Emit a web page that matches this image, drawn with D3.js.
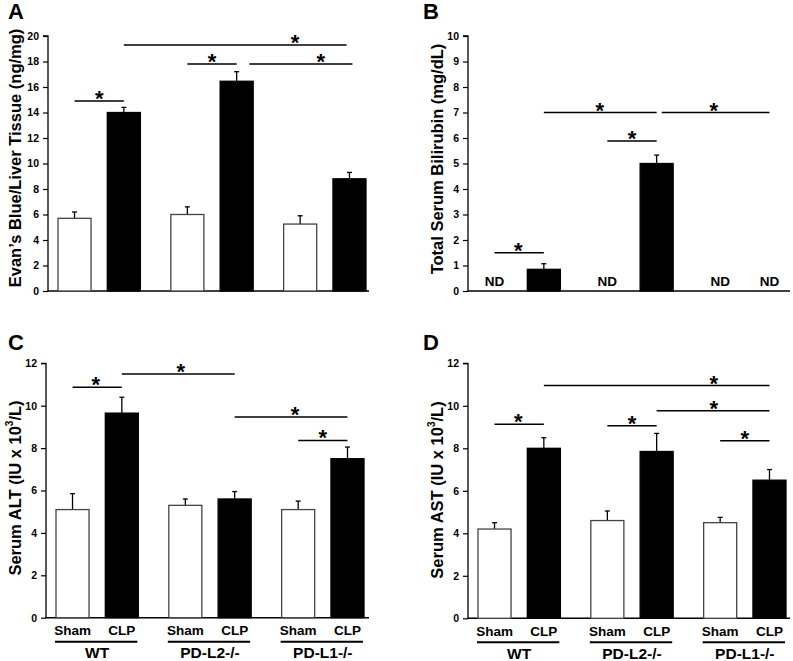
<!DOCTYPE html>
<html>
<head>
<meta charset="utf-8">
<script src="https://cdn.jsdelivr.net/npm/d3@7"></script>
<style>
  html, body { margin: 0; padding: 0; background: #fff; }
  svg { display: block; font-family: Arial, "Liberation Sans", Helvetica, sans-serif; }
</style>
</head>
<body>
<svg id="chart" width="793" height="661"></svg>
<script>
// ---------- DATA ----------
const groups = ["WT", "PD-L2-/-", "PD-L1-/-"];
const conditions = ["Sham", "CLP"];

// Panel A: Evan's Blue / Liver Tissue (ng/mg)
const evansBlue    = [5.7, 14.0, 6.0, 16.45, 5.25, 8.8];
const evansBlueErr = [0.5, 0.4, 0.6, 0.75, 0.65, 0.5];
const evansTicks   = [0, 2, 4, 6, 8, 10, 12, 14, 16, 18, 20];

// Panel B: Total Serum Bilirubin (mg/dL); null = ND
const bilirubin    = [null, 0.85, null, 5.0, null, null];
const bilirubinErr = [0, 0.22, 0, 0.33, 0, 0];
const bilirubinTicks = [0, 1, 2, 3, 4, 5, 6, 7, 8, 9, 10];

// Panel C: Serum ALT (IU x 10^3/L)
const alt    = [5.1, 9.65, 5.3, 5.6, 5.1, 7.5];
const altErr = [0.75, 0.75, 0.3, 0.35, 0.4, 0.55];
const altTicks = [0, 2, 4, 6, 8, 10, 12];

// Panel D: Serum AST (IU x 10^3/L)
const ast    = [4.2, 8.0, 4.6, 7.85, 4.5, 6.5];
const astErr = [0.3, 0.5, 0.45, 0.85, 0.25, 0.5];
const astTicks = [0, 2, 4, 6, 8, 10, 12];

// Significance brackets: [fromBar, toBar, yValue, starBar] (bar index, fractional allowed)
const sigA = [[0, 1, 14.9, 0.5], [1, 4.94, 19.3, 3.92], [2, 3, 17.8, 2.5], [3.2, 5.06, 17.8, 4.42]];
const sigB = [[0, 1, 1.5, 0.48], [1, 3, 7.0, 1.88], [2, 3, 5.88, 2.5], [3.08, 5, 7.0, 3.9]];
const sigC = [[0, 1, 10.87, 0.47], [1, 3, 11.5, 1.93], [3, 5, 9.47, 3.95], [4, 5, 8.36, 4.5]];
const sigD = [[0, 1, 9.13, 0.48], [1, 5, 10.95, 3.9], [2, 3, 9.06, 2.5], [3, 5, 9.77, 3.9], [4, 5, 8.36, 4.5]];

// ---------- LAYOUT ----------
const panels = [
  { letter: "A", lx: 8, ly: 19, axisX: 48, y0: 291, yTop: 36, xEnd: 369, max: 20,
    values: evansBlue, errs: evansBlueErr, ticks: evansTicks, sig: sigA,
    label: ["Evan\u2019s Blue/Liver Tissue (ng/mg)"], labelX: 15, labelY: 158, xLabels: false },
  { letter: "B", lx: 423, ly: 19, axisX: 468, y0: 291, yTop: 36, xEnd: 790, max: 10,
    values: bilirubin, errs: bilirubinErr, ticks: bilirubinTicks, sig: sigB,
    label: ["Total Serum Bilirubin (mg/dL)"], labelX: 437, labelY: 159, xLabels: false },
  { letter: "C", lx: 8, ly: 350, axisX: 46, y0: 617.7, yTop: 363.3, xEnd: 369, max: 12,
    values: alt, errs: altErr, ticks: altTicks, sig: sigC,
    label: ["Serum ALT (IU x 10", "3", "/L)"], labelX: 15, labelY: 488, xLabels: true },
  { letter: "D", lx: 423, ly: 350, axisX: 468, y0: 618.3, yTop: 363.3, xEnd: 790, max: 12,
    values: ast, errs: astErr, ticks: astTicks, sig: sigD,
    label: ["Serum AST (IU x 10", "3", "/L)"], labelX: 437, labelY: 490, xLabels: true }
];

const svg = d3.select("#chart");

panels.forEach(p => {
  const g = svg.append("g");

  const y = d3.scaleLinear().domain([0, p.max]).range([p.y0, p.yTop]);
  const xg = d3.scaleBand().domain(groups)
    .range([p.axisX + 10, p.axisX + 318]).paddingInner(0.27).paddingOuter(0);
  const xc = d3.scaleBand().domain(conditions)
    .range([0, xg.bandwidth()]).paddingInner(0.33).paddingOuter(0);

  const bars = [];
  groups.forEach((gr, gi) => conditions.forEach((c, ci) => {
    const i = gi * 2 + ci;
    bars.push({ group: gr, cond: c, v: p.values[i], e: p.errs[i],
                x: xg(gr) + xc(c), w: xc.bandwidth() });
  }));
  const centers = bars.map(b => b.x + b.w / 2);
  const cx = t => {
    const i = Math.max(0, Math.min(centers.length - 2, Math.floor(t)));
    return centers[i] + (t - i) * (centers[i + 1] - centers[i]);
  };

  // letter
  g.append("text").attr("x", p.lx).attr("y", p.ly)
    .attr("font-size", 22).attr("font-weight", "bold").text(p.letter);

  // y label
  const lab = g.append("text")
    .attr("transform", `translate(${p.labelX},${p.labelY}) rotate(-90)`)
    .attr("text-anchor", "middle").attr("dominant-baseline", "central")
    .attr("font-size", 16.5).attr("font-weight", "bold");
  lab.append("tspan").text(p.label[0]);
  if (p.label.length > 1) {
    lab.append("tspan").attr("font-size", 10).attr("dy", -6).text(p.label[1]);
    lab.append("tspan").attr("dy", 6).text(p.label[2]);
  }

  // y axis
  const yAxis = d3.axisLeft(y).tickValues(p.ticks).tickSize(5).tickPadding(4)
    .tickFormat(d3.format("d"));
  const ya = g.append("g").attr("transform", `translate(${p.axisX},0)`).call(yAxis);
  ya.select(".domain").attr("stroke", "#000").attr("stroke-width", 1.3)
    .attr("d", `M-5,${p.yTop}H0V${p.y0}`);
  ya.selectAll(".tick line").attr("stroke", "#000").attr("stroke-width", 1.2);
  ya.selectAll(".tick text").attr("font-size", 10.5).attr("font-weight", "bold")
    .attr("fill", "#000").attr("font-family", "Arial, 'Liberation Sans', sans-serif");

  // x axis line
  g.append("line").attr("x1", p.axisX - 0.5).attr("x2", p.xEnd)
    .attr("y1", p.y0).attr("y2", p.y0).attr("stroke", "#000").attr("stroke-width", 1.5);

  // error bars (upward)
  bars.filter(b => b.v != null).forEach(b => {
    const c = b.x + b.w / 2;
    g.append("line").attr("x1", c).attr("x2", c)
      .attr("y1", y(b.v)).attr("y2", y(b.v + b.e))
      .attr("stroke", "#000").attr("stroke-width", 1.3);
    g.append("line").attr("x1", c - 2.5).attr("x2", c + 2.5)
      .attr("y1", y(b.v + b.e)).attr("y2", y(b.v + b.e))
      .attr("stroke", "#000").attr("stroke-width", 1.3);
  });

  // bars
  g.selectAll("rect.bar").data(bars.filter(b => b.v != null)).join("rect")
    .attr("class", "bar")
    .attr("x", b => b.x).attr("width", b => b.w)
    .attr("y", b => y(b.v)).attr("height", b => y(0) - y(b.v))
    .attr("fill", b => b.cond === "Sham" ? "#fff" : "#000")
    .attr("stroke", b => b.cond === "Sham" ? "#444" : "#000")
    .attr("stroke-width", 1.3);

  // ND labels
  bars.filter(b => b.v == null).forEach(b => {
    g.append("text").attr("x", b.x + b.w / 2).attr("y", p.y0 - 5)
      .attr("text-anchor", "middle").attr("font-size", 13.5).attr("font-weight", "bold")
      .text("ND");
  });

  // significance brackets
  p.sig.forEach(([a, b, v, s]) => {
    g.append("line").attr("x1", cx(a)).attr("x2", cx(b))
      .attr("y1", y(v)).attr("y2", y(v)).attr("stroke", "#000").attr("stroke-width", 1.5);
    g.append("text").attr("x", cx(s)).attr("y", y(v) + 5)
      .attr("text-anchor", "middle").attr("font-size", 22).attr("font-weight", "bold")
      .text("*");
  });

  // x labels
  if (p.xLabels) {
    bars.forEach(b => {
      g.append("text").attr("x", b.x + b.w / 2).attr("y", p.y0 + 17.5)
        .attr("text-anchor", "middle").attr("font-size", 13.5).attr("font-weight", "bold")
        .text(b.cond);
    });
    groups.forEach(gr => {
      g.append("line").attr("x1", xg(gr) - 1).attr("x2", xg(gr) + xg.bandwidth() - 1)
        .attr("y1", p.y0 + 24).attr("y2", p.y0 + 24)
        .attr("stroke", "#000").attr("stroke-width", 2);
      g.append("text").attr("x", xg(gr) + xg.bandwidth() / 2).attr("y", p.y0 + 40.5)
        .attr("text-anchor", "middle").attr("font-size", 15.5).attr("font-weight", "bold")
        .text(gr);
    });
  }
});
</script>
</body>
</html>
